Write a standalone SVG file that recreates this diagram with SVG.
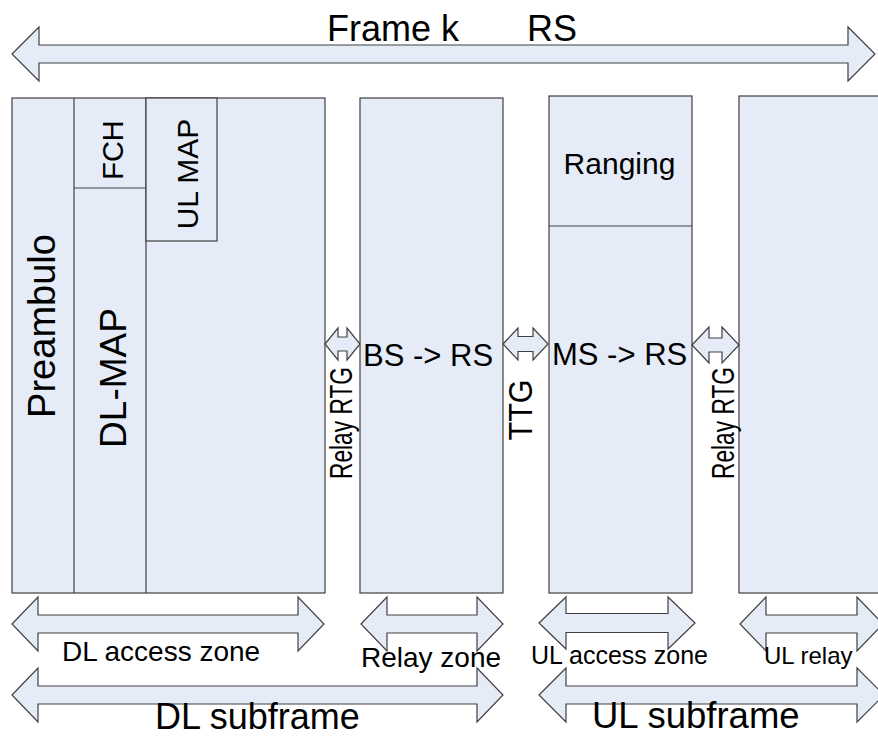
<svg xmlns="http://www.w3.org/2000/svg" width="878" height="737" viewBox="0 0 878 737">
<style>
.box{fill:#E6ECF7;stroke:#404040;stroke-width:1.2}
.ln{fill:none;stroke:#404040;stroke-width:1.2}
.arr{fill:#E6ECF7;stroke:#404040;stroke-width:1.2;stroke-linejoin:miter}
text{font-family:"Liberation Sans",Arial,sans-serif;fill:#000}
</style>
<rect width="878" height="737" fill="#fff"/>
<g id="title">
<text x="327" y="41" font-size="36">Frame k<tspan x="527">RS</tspan></text>
</g>
<g id="dl-access-block">
<rect class="box" x="12" y="98" width="313" height="495"/>
<line class="ln" x1="74" y1="98" x2="74" y2="593"/>
<line class="ln" x1="146" y1="98" x2="146" y2="593"/>
<line class="ln" x1="74" y1="188" x2="146" y2="188"/>
<rect class="box" x="146" y="98" width="71" height="143"/>
<text transform="translate(55,326) rotate(-90)" font-size="38" text-anchor="middle">Preambulo</text>
<text transform="translate(126,378) rotate(-90)" font-size="37" text-anchor="middle">DL-MAP</text>
<text transform="translate(123,150) rotate(-90)" font-size="29" text-anchor="middle">FCH</text>
<text transform="translate(198,174) rotate(-90)" font-size="30" text-anchor="middle">UL MAP</text>
</g>
<g id="relay-zone-block">
<rect class="box" x="360" y="98" width="143" height="495"/>
<text x="363" y="366" font-size="31">BS -&gt; RS</text>
</g>
<g id="ul-access-block">
<rect class="box" x="549" y="96" width="143" height="497"/>
<line class="ln" x1="549" y1="226" x2="692" y2="226"/>
<text x="619.5" y="174" font-size="30" text-anchor="middle">Ranging</text>
<text x="552" y="365" font-size="31">MS -&gt; RS</text>
</g>
<g id="ul-relay-block">
<rect class="box" x="739" y="96" width="150" height="497"/>
</g>
<g id="gap-labels">
<text transform="translate(352,423) rotate(-90)" font-size="32" text-anchor="middle" textLength="112" lengthAdjust="spacingAndGlyphs">Relay RTG</text>
<text transform="translate(532,410) rotate(-90)" font-size="34" text-anchor="middle" textLength="61" lengthAdjust="spacingAndGlyphs">TTG</text>
<text transform="translate(734,423) rotate(-90)" font-size="32" text-anchor="middle" textLength="112" lengthAdjust="spacingAndGlyphs">Relay RTG</text>
</g>
<g id="connectors">
<polygon class="arr" points="12,54 39,27 39,45 848,45 848,27 875,54 848,81 848,63 39,63 39,81"/>
<polygon class="arr" points="325,344 338,328 338,337 347,337 347,328 360,344 347,360 347,351 338,351 338,360"/>
<polygon class="arr" points="503,344 518,328 518,336.5 533,336.5 533,328 548,344 533,360 533,351.5 518,351.5 518,360"/>
<polygon class="arr" points="692,345 709,327 709,338 722,338 722,327 739,345 722,363 722,352 709,352 709,363"/>
<polygon class="arr" points="12,624 38,597 38,615 298,615 298,597 324,624 298,651 298,633 38,633 38,651"/>
<polygon class="arr" points="361,624 387,597 387,615 477,615 477,597 503,624 477,651 477,633 387,633 387,651"/>
<polygon class="arr" points="12,695 38,668 38,686 477,686 477,668 503,695 477,722 477,704 38,704 38,722"/>
<polygon class="arr" points="539,623 566,597 566,613.5 668,613.5 668,597 695,623 668,649 668,632.5 566,632.5 566,649"/>
<polygon class="arr" points="740,624 766,597 766,615 857,615 857,597 883,624 857,651 857,633 766,633 766,651"/>
<polygon class="arr" points="539,695 566,668 566,686 857,686 857,668 884,695 857,722 857,704 566,704 566,722"/>
</g>
<g id="zone-labels">
<text x="62" y="661" font-size="28">DL access zone</text>
<text x="361" y="667" font-size="28">Relay zone</text>
<text x="155" y="729" font-size="36">DL subframe</text>
<text x="592" y="728" font-size="36.5">UL subframe</text>
<text x="531" y="664" font-size="25">UL access zone</text>
<text x="764" y="664" font-size="24">UL relay</text>
</g>
</svg>
